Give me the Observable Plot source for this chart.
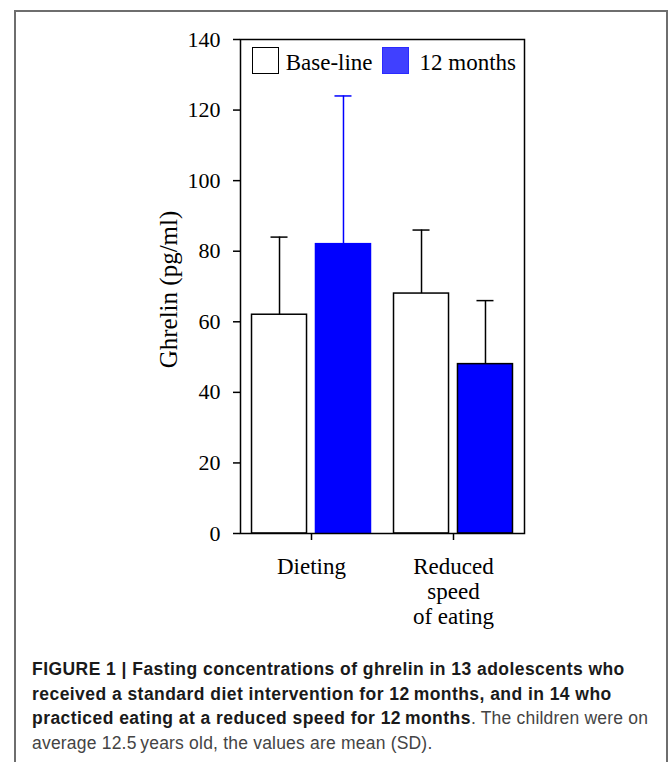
<!DOCTYPE html>
<html><head><meta charset="utf-8">
<script src="https://cdn.jsdelivr.net/npm/d3@7"></script>
<script src="https://cdn.jsdelivr.net/npm/@observablehq/plot@0.6"></script>
<style>
body{margin:0;background:#fff;width:668px;height:762px;overflow:hidden;position:relative;}
#frame{position:absolute;left:14px;top:10px;width:654px;height:800px;border:2px solid #6e6e6e;box-sizing:border-box;}
#chart{position:absolute;left:0;top:0;}
#legend{position:absolute;left:251.7px;top:47.3px;display:flex;align-items:center;font-family:'Liberation Serif','Times New Roman',serif;font-size:23px;line-height:27px;color:#000;}
#legend .sw{width:27.5px;height:27px;box-sizing:border-box;border:1.5px solid #000;}
#legend .lt{position:relative;top:2px;}
#caption{position:absolute;left:32px;top:657px;font-family:'Liberation Sans',Arial,sans-serif;font-size:17.5px;line-height:24.5px;color:#444;letter-spacing:0.2px;}
#caption div{white-space:nowrap;}
#caption b{color:#1a1a1a;letter-spacing:0.45px;}
</style></head><body>
<div id="frame"></div>
<div id="chart"></div>
<div id="legend"></div>
<div id="caption">
<div><b>FIGURE 1 | Fasting concentrations of ghrelin in 13 adolescents who</b></div>
<div><b>received a standard diet intervention for 12&#8201;months, and in 14 who</b></div>
<div><b>practiced eating at a reduced speed for 12&#8201;months</b>. The children were on</div>
<div>average 12.5&#8201;years old, the values are mean (SD).</div>
</div>
<script>
const groups = ["Dieting", "Reduced speed of eating"];
const groupLabels = ["Dieting", "Reduced\nspeed\nof eating"];
const series = ["Base-line", "12 months"];
const baselineMean = [62, 68];
const baselineSD = [22, 18];
const monthsMean = [82, 48];
const monthsSD = [42, 18];
const yTicks = [0, 20, 40, 60, 80, 100, 120, 140];
const yLabel = "Ghrelin (pg/ml)";

const data = [];
groups.forEach((g, i) => {
  data.push({group: g, series: series[0], mean: baselineMean[i], sd: baselineSD[i]});
  data.push({group: g, series: series[1], mean: monthsMean[i], sd: monthsSD[i]});
});
const fill = d => d.series === series[0] ? "white" : "#0000ff";
const edge = d => (d.series === series[1] && d.group === groups[0]) ? "#0000ff" : "black";

const chart = Plot.plot({
  width: 668, height: 640,
  marginTop: 39, marginBottom: 107, marginLeft: 240, marginRight: 144,
  style: {fontFamily: "'Liberation Serif','Times New Roman',serif", fontSize: "22px", color: "black", background: "transparent", overflow: "visible"},
  fx: {domain: groups, paddingInner: 0, paddingOuter: 0, label: null, axis: null},
  x: {domain: series, paddingInner: 0.14, paddingOuter: 0.18, round: false, axis: null},
  y: {domain: [0, 140], ticks: yTicks, axis: null},
  marks: [
    Plot.barY(data, {fx: "group", x: "series", y: "mean", fill, stroke: edge, strokeWidth: 1.5}),
    Plot.ruleX(data, {fx: "group", x: "series", y1: "mean", y2: d => d.mean + d.sd, stroke: edge, strokeWidth: 1.5}),
    Plot.tickY(data, {fx: "group", x: "series", y: d => d.mean + d.sd, stroke: edge, strokeWidth: 1.5, insetLeft: 19, insetRight: 19}),
    Plot.frame({facet: "super", stroke: "black", strokeWidth: 1.5}),
    Plot.axisY({ticks: yTicks, tickSize: 7, tickPadding: 13, strokeWidth: 1.5, fontSize: 22, label: null}),
    Plot.text([yLabel], {facet: "super", frameAnchor: "left", textAnchor: "middle", lineAnchor: "middle", rotate: -90, dx: -72, dy: 3, fontSize: 25, text: d => d}),
    Plot.axisFx({anchor: "bottom", tickSize: 7, tickPadding: 16, strokeWidth: 1.5, fontSize: 23, lineHeight: 1.087, tickFormat: g => groupLabels[groups.indexOf(g)], label: null})
  ]
});
document.getElementById("chart").appendChild(chart);

const legendFill = ["white", "#4040ff"];
const legendStroke = ["#000", "#2a2aff"];
const gaps = [[6.5, 9], [10.5, 0]];
document.getElementById("legend").innerHTML = series.map((s, i) =>
  `<span class="sw" style="background:${legendFill[i]};border-color:${legendStroke[i]}"></span><span class="lt" style="margin-left:${gaps[i][0]}px;margin-right:${gaps[i][1]}px">${s}</span>`
).join("");
</script>
</body></html>
